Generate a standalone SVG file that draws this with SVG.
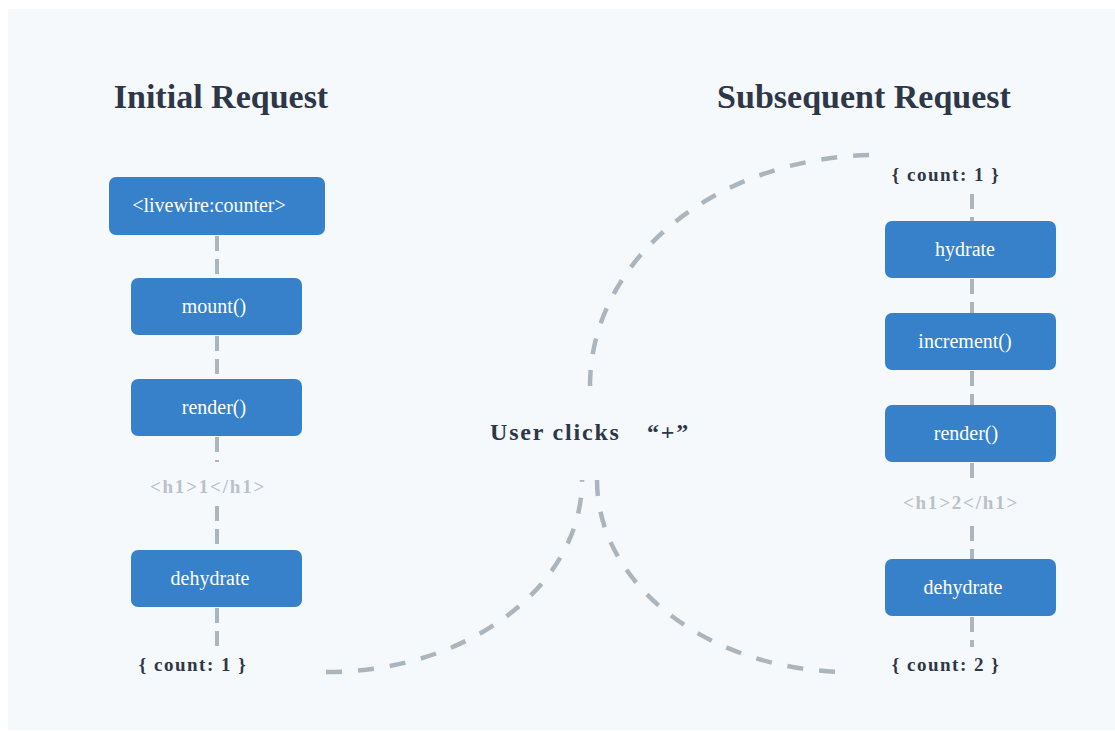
<svg xmlns="http://www.w3.org/2000/svg" width="1115" height="731" viewBox="0 0 1115 731">
  <style>
    .title { font-family: "Liberation Serif", "Times New Roman", serif; font-weight: bold; font-size: 34px; fill: #2d3748; text-anchor: middle; }
    .box { fill: #3781ca; }
    .label { font-family: "Liberation Serif", "Times New Roman", serif; font-size: 20px; fill: #ffffff; text-anchor: middle; }
    .state { font-family: "Liberation Serif", "Times New Roman", serif; font-weight: bold; font-size: 19px; fill: #2d3748; letter-spacing: 1.5px; text-anchor: middle; }
    .html { font-family: "Liberation Serif", "Times New Roman", serif; font-weight: bold; font-size: 19px; fill: #b9c1c9; letter-spacing: 1.8px; text-anchor: middle; }
    .event { font-family: "Liberation Serif", "Times New Roman", serif; font-weight: bold; font-size: 24px; fill: #2d3748; letter-spacing: 1.8px; }
    .link { fill: none; stroke: #aab5bd; stroke-width: 4; stroke-dasharray: 15 8; }
    .flow { fill: none; stroke: #aab5bd; stroke-width: 4.5; stroke-dasharray: 16 16; }
  </style>

  <!-- canvas -->
  <rect x="0" y="0" width="1115" height="731" fill="#ffffff"/>
  <rect x="8" y="9" width="1107" height="721" fill="#f5f9fc"/>

  <!-- column headings -->
  <text class="title" x="221" y="108">Initial Request</text>
  <text class="title" x="864" y="108">Subsequent Request</text>

  <!-- connectors -->
  <g id="connectors">
    <!-- initial request chain -->
    <line class="link" x1="217" y1="236" x2="217" y2="278"/>
    <line class="link" x1="217" y1="336" x2="217" y2="379"/>
    <line class="link" x1="217" y1="437" x2="217" y2="462"/>
    <line class="link" x1="217" y1="506" x2="217" y2="550"/>
    <line class="link" x1="217" y1="608" x2="217" y2="646"/>
    <!-- subsequent request chain -->
    <line class="link" x1="972" y1="194" x2="972" y2="221"/>
    <line class="link" x1="972" y1="279" x2="972" y2="313"/>
    <line class="link" x1="972" y1="371" x2="972" y2="405"/>
    <line class="link" x1="972" y1="463" x2="972" y2="482"/>
    <line class="link" x1="972" y1="526" x2="972" y2="559"/>
    <line class="link" x1="972" y1="617" x2="972" y2="647"/>
    <!-- state hand-off through the user event -->
    <path class="flow" d="M326,672 C468,672 582,586 582,480"/>
    <path class="flow" d="M597,480 C597,586 711,672 850,672"/>
    <path class="flow" d="M590,386 C590,258 719,155 878,155"/>
  </g>

  <!-- initial request nodes -->
  <g id="node-livewire-tag">
    <rect class="box" x="109" y="177" width="216" height="58" rx="7"/>
    <text class="label" x="209" y="212">&lt;livewire:counter&gt;</text>
  </g>
  <g id="node-mount">
    <rect class="box" x="131" y="278" width="171" height="57" rx="7"/>
    <text class="label" x="214" y="313">mount()</text>
  </g>
  <g id="node-render-1">
    <rect class="box" x="131" y="379" width="171" height="57" rx="7"/>
    <text class="label" x="214" y="414">render()</text>
  </g>
  <g id="node-html-1">
    <text class="html" x="208" y="493">&lt;h1&gt;1&lt;/h1&gt;</text>
  </g>
  <g id="node-dehydrate-1">
    <rect class="box" x="131" y="550" width="171" height="57" rx="7"/>
    <text class="label" x="210" y="585">dehydrate</text>
  </g>
  <g id="node-state-1">
    <text class="state" x="193" y="671">{ count: 1 }</text>
  </g>

  <!-- user event -->
  <g id="node-user-click">
    <text class="event" x="490" y="440">User clicks <tspan x="647">“+”</tspan></text>
  </g>

  <!-- subsequent request nodes -->
  <g id="node-state-in">
    <text class="state" x="946" y="181">{ count: 1 }</text>
  </g>
  <g id="node-hydrate">
    <rect class="box" x="885" y="221" width="171" height="57" rx="7"/>
    <text class="label" x="965" y="256">hydrate</text>
  </g>
  <g id="node-increment">
    <rect class="box" x="885" y="313" width="171" height="57" rx="7"/>
    <text class="label" x="965" y="348">increment()</text>
  </g>
  <g id="node-render-2">
    <rect class="box" x="885" y="405" width="171" height="57" rx="7"/>
    <text class="label" x="966" y="440">render()</text>
  </g>
  <g id="node-html-2">
    <text class="html" x="961" y="509">&lt;h1&gt;2&lt;/h1&gt;</text>
  </g>
  <g id="node-dehydrate-2">
    <rect class="box" x="885" y="559" width="171" height="57" rx="7"/>
    <text class="label" x="963" y="594">dehydrate</text>
  </g>
  <g id="node-state-out">
    <text class="state" x="946" y="671">{ count: 2 }</text>
  </g>
</svg>
